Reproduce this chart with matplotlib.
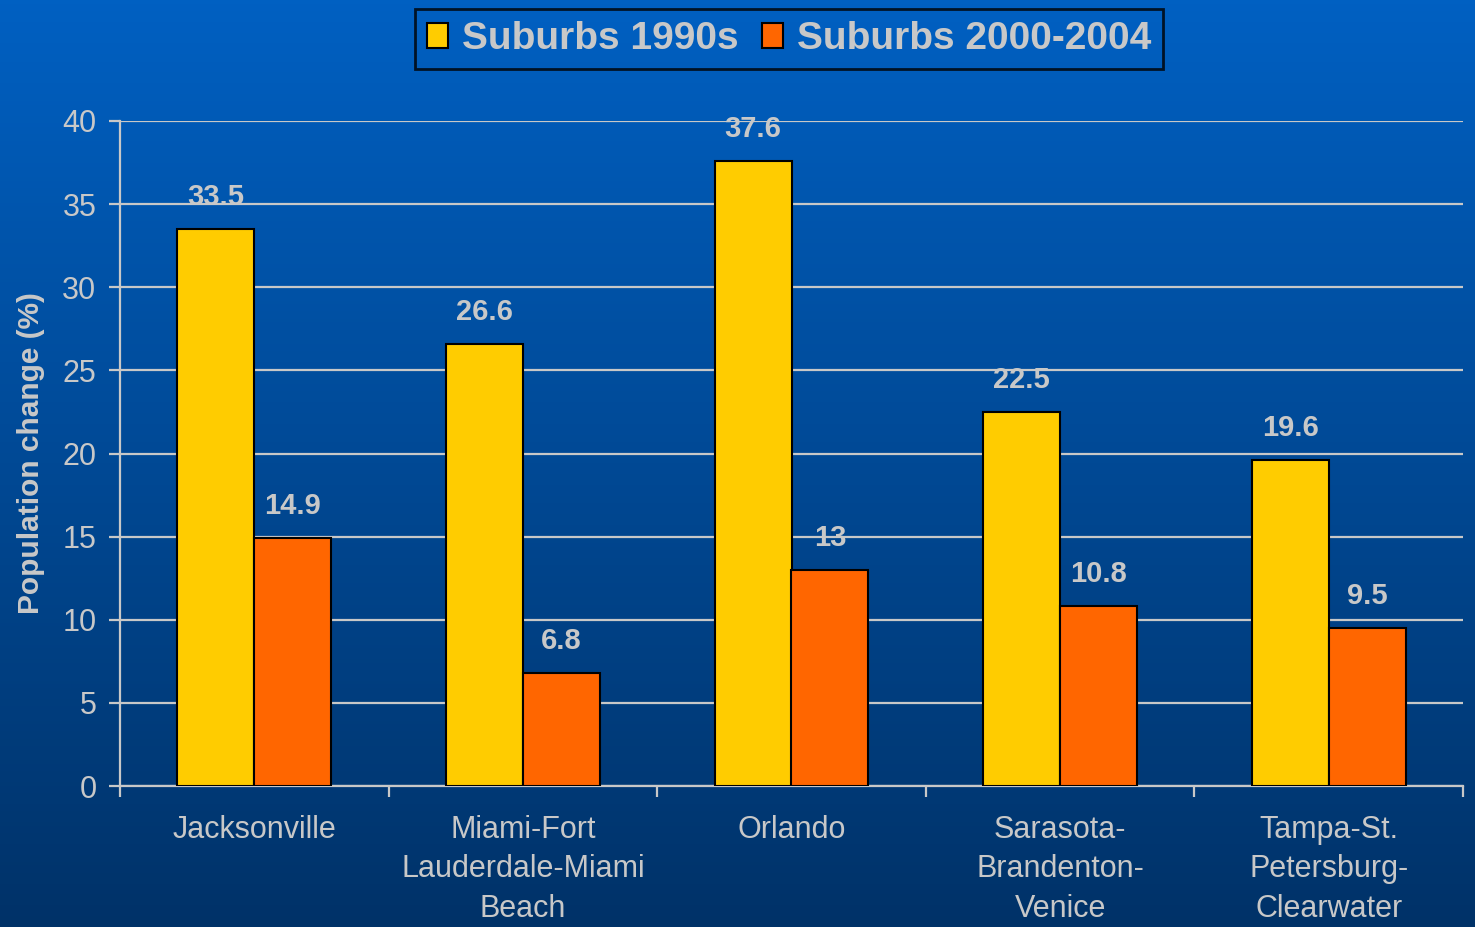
import numpy as np
import matplotlib
matplotlib.use("Agg")
import matplotlib.pyplot as plt
from matplotlib.patches import Patch

categories = ["Jacksonville", "Miami-Fort\nLauderdale-Miami\nBeach", "Orlando",
              "Sarasota-\nBrandenton-\nVenice", "Tampa-St.\nPetersburg-\nClearwater"]
suburbs_1990s = [33.5, 26.6, 37.6, 22.5, 19.6]
suburbs_2000_2004 = [14.9, 6.8, 13, 10.8, 9.5]
labels_1990s = ["33.5", "26.6", "37.6", "22.5", "19.6"]
labels_2000 = ["14.9", "6.8", "13", "10.8", "9.5"]
series_names = ["Suburbs 1990s", "Suburbs 2000-2004"]
yticks = [0, 5, 10, 15, 20, 25, 30, 35, 40]

plt.rcParams['font.family'] = ['Liberation Sans', 'DejaVu Sans']
TXT = '#c8c8c8'
YEL = '#FFCC00'
ORA = '#FF6600'

fig = plt.figure(figsize=(14.75, 9.27), dpi=100)

# gradient background
bg = fig.add_axes([0, 0, 1, 1], zorder=-10)
top = np.array([0, 96, 194]) / 255.0
bot = np.array([0, 50, 104]) / 255.0
t = np.linspace(0, 1, 256)[:, None]
grad = (top[None, :] * (1 - t) + bot[None, :] * t)[:, None, :]
bg.imshow(grad, aspect='auto', extent=[0, 1, 0, 1], origin='upper')
bg.set_axis_off()

ax = fig.add_axes([120/1475, 1-786/927, (1463-120)/1475, (786-121)/927])
ax.patch.set_alpha(0)

x = np.arange(len(categories))
w = 0.286
b1 = ax.bar(x - w/2, suburbs_1990s, w, color=YEL, edgecolor='black', linewidth=1.5, zorder=3)
b2 = ax.bar(x + w/2, suburbs_2000_2004, w, color=ORA, edgecolor='black', linewidth=1.5, zorder=3)

for rect, lab in zip(b1, labels_1990s):
    ax.annotate(lab, (rect.get_x() + rect.get_width()/2, rect.get_height()),
                xytext=(0, 13), textcoords='offset points', ha='center', va='bottom',
                fontsize=21, fontweight='bold', color=TXT, zorder=4)
for rect, lab in zip(b2, labels_2000):
    ax.annotate(lab, (rect.get_x() + rect.get_width()/2, rect.get_height()),
                xytext=(0, 13), textcoords='offset points', ha='center', va='bottom',
                fontsize=21, fontweight='bold', color=TXT, zorder=4)

ax.set_xlim(-0.5, len(categories) - 0.5)
ax.set_ylim(0, 40)
ax.set_yticks(yticks)
ax.set_yticklabels([str(v) for v in yticks])
ax.yaxis.grid(True, color='#c8c8c8', linewidth=1.6, zorder=1)
ax.set_axisbelow(True)

ax.set_xticks(x)
ax.set_xticklabels(categories, linespacing=1.4)
ax.set_xticks(np.arange(-0.5, len(categories)), minor=True)
ax.tick_params(axis='x', which='major', length=0, pad=21, labelsize=22, colors=TXT)
ax.tick_params(axis='x', which='minor', length=8, width=1.6, color='#c8c8c8', direction='out')
ax.tick_params(axis='y', length=8, width=1.6, color='#c8c8c8', pad=9, labelsize=22, labelcolor=TXT)

for s in ['top', 'right']:
    ax.spines[s].set_visible(False)
for s in ['left', 'bottom']:
    ax.spines[s].set_color('#c8c8c8')
    ax.spines[s].set_linewidth(1.6)

ax.set_ylabel("Population change (%)", fontsize=21.5, fontweight='bold', color=TXT)
ax.yaxis.set_label_coords(-0.056, 0.5)

handles = [Patch(facecolor=YEL, edgecolor='black', linewidth=1.5),
           Patch(facecolor=ORA, edgecolor='black', linewidth=1.5)]
leg = fig.legend(handles, series_names, loc='center', bbox_to_anchor=(789/1475, 1-39/927),
                 ncol=2, frameon=True, fancybox=False, edgecolor='black', facecolor='none',
                 prop={'size': 28, 'weight': 'bold'}, handlelength=0.55, handleheight=0.6,
                 handletextpad=0.35, columnspacing=0.6, borderpad=0.3, borderaxespad=0)
leg.get_frame().set_linewidth(2)
for txt in leg.get_texts():
    txt.set_color(TXT)

fig.savefig("out.png", dpi=100)
